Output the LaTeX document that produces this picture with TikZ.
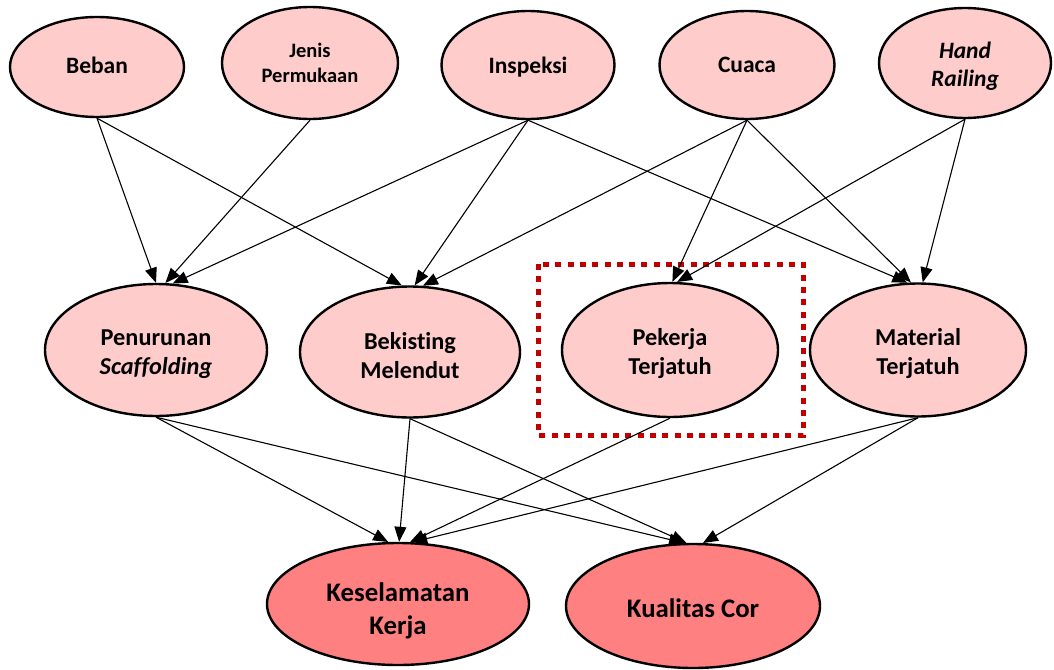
\documentclass[tikz,border=0pt]{standalone}
\usepackage{fontspec}
\setmainfont{Carlito}[Ligatures=NoCommon]
\usetikzlibrary{shapes.geometric,arrows.meta}
\definecolor{lp}{HTML}{FFCCCC}
\definecolor{dp}{HTML}{FF8080}
\definecolor{boxred}{HTML}{C00000}
\begin{document}
\begin{tikzpicture}[x=1pt,y=-1pt,
  oval/.style={ellipse, draw=black, line width=2.4pt, fill=lp, inner sep=0pt},
  topf/.style={align=center, font=\fontsize{23.5}{28}\selectfont\bfseries},
  jenf/.style={align=center, font=\fontsize{20.5}{25}\selectfont\bfseries},
  midf/.style={align=center, font=\fontsize{24.3}{29}\selectfont\bfseries},
  botf/.style={align=center, font=\fontsize{26.8}{33}\selectfont\bfseries},
  edge/.style={line width=1.1pt, -{Triangle[length=15pt,width=12pt]}},
  focusbox/.style={draw=boxred, line width=5pt, dash pattern=on 6pt off 6.3pt}
]
\useasboundingbox (0,0) rectangle (1054,669);
% top row
\node[oval,minimum width=174pt,minimum height=100pt,
  label={[topf,yshift=2pt]center:Beban}] (beban) at (97,67) {};
\node[oval,minimum width=176pt,minimum height=112pt,
  label={[jenf]center:{Jenis\\Permukaan}}] (jenis) at (310,63) {};
\node[oval,minimum width=173pt,minimum height=108pt,
  label={[topf,yshift=-2pt]center:Inspeksi}] (insp) at (528,65) {};
\node[oval,minimum width=175pt,minimum height=108pt,
  label={[topf]center:Cuaca}] (cuaca) at (747,65) {};
\node[oval,minimum width=172pt,minimum height=110pt,
  label={[topf,yshift=-3pt]center:{\textit{Hand}\\\textit{Railing}}}] (hand) at (965,63) {};
% middle row
\node[oval,minimum width=222pt,minimum height=132pt,
  label={[midf,yshift=-4pt]center:{Penurunan\\\textit{Scaffolding}}}] (pen) at (156,350) {};
\node[oval,minimum width=220pt,minimum height=131pt,
  label={[midf,yshift=-4pt]center:{Bekisting\\Melendut}}] (bek) at (410,352) {};
\node[oval,minimum width=216pt,minimum height=134pt,
  label={[midf,yshift=-4pt]center:{Pekerja\\Terjatuh}}] (pek) at (670,350) {};
\node[oval,minimum width=216pt,minimum height=133pt,
  label={[midf,yshift=-4pt]center:{Material\\Terjatuh}}] (mat) at (918,350) {};
% bottom row
\node[oval,fill=dp,minimum width=262pt,minimum height=122pt,
  label={[botf,yshift=-7pt]center:{Keselamatan\\Kerja}}] (kes) at (398,604) {};
\node[oval,fill=dp,minimum width=254pt,minimum height=124pt,
  label={[botf,yshift=-2pt]center:Kualitas Cor}] (kual) at (693,606) {};
% highlight box
\draw[focusbox] (538,264) rectangle (803,435);
% edges top -> middle
\draw[edge] (beban.south) -- (pen.90.5);
\draw[edge] (beban.south) -- (bek.97);
\draw[edge] (jenis.south) -- (pen.82);
\draw[edge] (insp.south) -- (pen.76);
\draw[edge] (insp.south) -- (bek.86);
\draw[edge] (insp.south) -- (mat.99);
\draw[edge] (cuaca.south) -- (bek.79);
\draw[edge] (cuaca.south) -- (pek.88);
\draw[edge] (cuaca.south) -- (mat.96);
\draw[edge] (hand.south) -- (pek.84);
\draw[edge] (hand.south) -- (mat.86);
% edges middle -> bottom
\draw[edge] (pen.south) -- (kes.99);
\draw[edge] (pen.south) -- (kual.98);
\draw[edge] (bek.south) -- (kes.89);
\draw[edge] (bek.south) -- (kual.96);
\draw[edge] (pek.south) -- (kes.79);
\draw[edge] (mat.south) -- (kes.77);
\draw[edge] (mat.south) -- (kual.81);
\end{tikzpicture}
\end{document}
